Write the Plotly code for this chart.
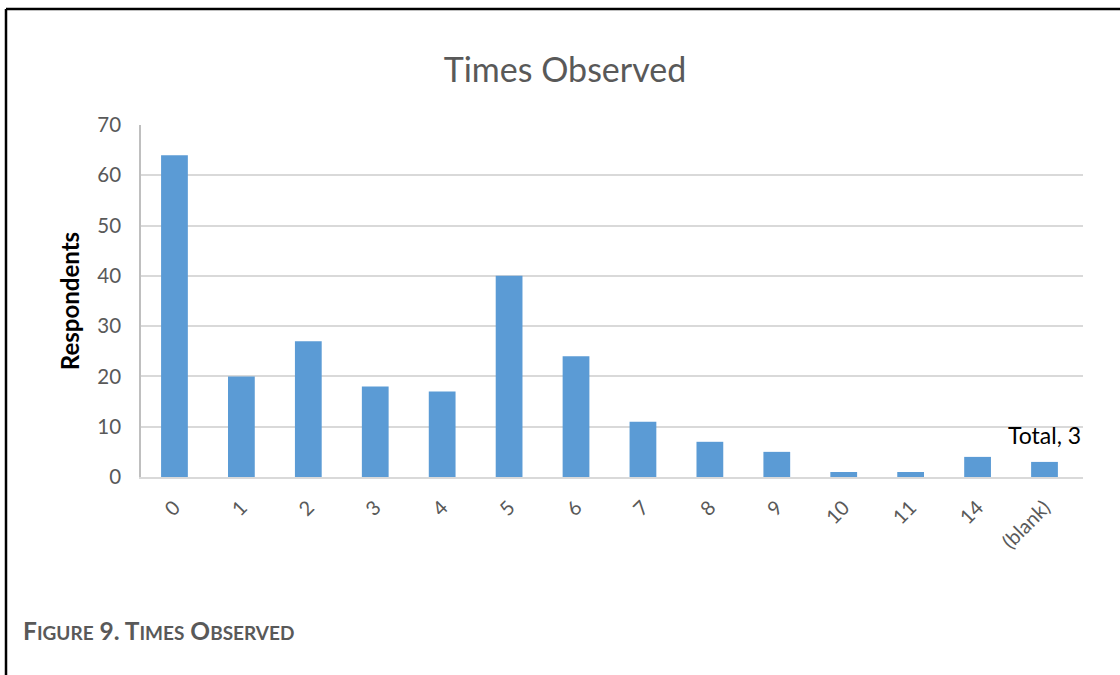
import plotly.graph_objects as go

# Data
categories = ["0", "1", "2", "3", "4", "5", "6", "7", "8", "9", "10", "11", "14", "(blank)"]
respondents = [64, 20, 27, 18, 17, 40, 24, 11, 7, 5, 1, 1, 4, 3]
series_name = "Total"

GREY = "#595959"
BLUE = "#5b9bd5"
FONT = "Lato, 'Open Sans', sans-serif"

fig = go.Figure(
    go.Bar(
        x=categories,
        y=respondents,
        marker=dict(color=BLUE, line=dict(width=0)),
        cliponaxis=False,
        name=series_name,
    )
)

L, R, T, B = 141, 37, 125, 198
W, H = 1120, 675
pw, ph = W - L - R, H - T - B

def px_x(px):
    return (px - L) / pw

def px_y(py):
    return (H - B - py) / ph

fig.update_layout(
    width=W,
    height=H,
    margin=dict(l=L, r=R, t=T, b=B),
    paper_bgcolor="white",
    plot_bgcolor="white",
    bargap=0.6,
    showlegend=False,
    font=dict(family=FONT, color=GREY),
    title=dict(
        text="Times Observed",
        x=(565) / W,
        xanchor="center",
        y=1 - 70 / H,
        yanchor="middle",
        font=dict(family=FONT, size=34, color=GREY),
    ),
    xaxis=dict(
        type="category",
        tickangle=-45,
        tickfont=dict(family=FONT, size=20, color=GREY),
        showline=True,
        linecolor="#d9d9d9",
        linewidth=2,
        showgrid=False,
        ticks="",
        ticklabelstandoff=9,
    ),
    yaxis=dict(
        range=[0, 70],
        dtick=10,
        tickfont=dict(family=FONT, size=20.5, color=GREY),
        showgrid=True,
        gridcolor="#d9d9d9",
        gridwidth=1.5,
        showline=True,
        linecolor="#bfbfbf",
        linewidth=1.5,
        zeroline=False,
        ticks="",
        ticklabelstandoff=14,
        title=dict(
            text="<b>Respondents</b>",
            font=dict(family=FONT, size=24, color="#000000"),
            standoff=11,
        ),
    ),
)

# Data label on the final bar: "<series>, <value>"
fig.add_annotation(
    x=categories[-1], y=respondents[-1],
    xref="x", yref="y",
    text=f"{series_name}, {respondents[-1]}",
    showarrow=False,
    yanchor="middle", yshift=27,
    font=dict(family=FONT, size=23, color="#000000"),
)

# Frame around the figure (left and top edges)
fig.add_shape(type="line", xref="paper", yref="paper",
              x0=px_x(6), x1=px_x(1125), y0=px_y(9), y1=px_y(9),
              line=dict(color="black", width=2.5))
fig.add_shape(type="line", xref="paper", yref="paper",
              x0=px_x(6), x1=px_x(6), y0=px_y(9), y1=px_y(680),
              line=dict(color="black", width=2.5))

# Caption in small capitals
big, small = 24.5, 19
caption = (
    f"<b><span style='font-size:{big}px'>F</span><span style='font-size:{small}px'>IGURE</span>"
    f"<span style='font-size:{big}px'> 9. T</span><span style='font-size:{small}px'>IMES</span>"
    f"<span style='font-size:{big}px'> O</span><span style='font-size:{small}px'>BSERVED</span></b>"
)
fig.add_annotation(
    text=caption,
    xref="paper", yref="paper",
    x=px_x(21), y=px_y(630),
    xanchor="left", yanchor="middle",
    showarrow=False,
    font=dict(family=FONT, color=GREY),
)

fig.write_html("out.html")
